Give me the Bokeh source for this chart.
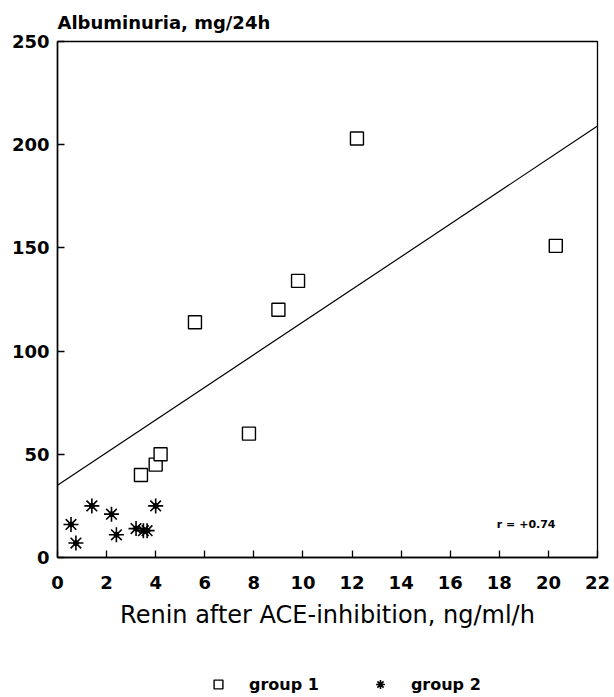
from bokeh.plotting import figure
from bokeh.layouts import column
from bokeh.models import Range1d, FixedTicker, Legend, LegendItem, Label
from bokeh.embed import file_html
from bokeh.resources import INLINE

# Data
g1_x = [3.4, 4.0, 4.2, 5.6, 7.8, 9.0, 9.8, 12.2, 20.3]
g1_y = [40, 45, 50, 114, 60, 120, 134, 203, 151]
g2_x = [0.55, 0.75, 1.4, 2.2, 2.4, 3.2, 3.5, 3.65, 4.0]
g2_y = [16, 7, 25, 21, 11, 14, 13, 13, 25]
fit_x = [0, 22]
fit_y = [35, 209]
x_ticks = [0, 2, 4, 6, 8, 10, 12, 14, 16, 18, 20, 22]
y_ticks = [0, 50, 100, 150, 200, 250]
series_names = ["group 1", "group 2"]

FONT = "DejaVu Sans"

p = figure(width=612, height=652, output_backend="svg", toolbar_location=None,
           x_range=Range1d(0, 22), y_range=Range1d(0, 250),
           min_border_left=57, min_border_right=15, min_border_top=41, min_border_bottom=95,
           title="Albuminuria, mg/24h")

p.title.text_font = FONT
p.title.text_font_style = "bold"
p.title.text_font_size = "18px"
p.title.text_color = "black"
p.title.align = "left"
p.title.offset = 0
p.title.standoff = 17

p.xgrid.visible = False
p.ygrid.visible = False
p.outline_line_color = "black"
p.outline_line_width = 1.3
p.background_fill_color = "white"
p.border_fill_color = "white"

for ax in (p.xaxis[0], p.yaxis[0]):
    ax.axis_line_color = "black"
    ax.axis_line_width = 1.5
    ax.major_tick_in = 7
    ax.major_tick_out = 0
    ax.major_tick_line_width = 1.3
    ax.minor_tick_line_color = None
    ax.major_label_text_font = FONT
    ax.major_label_text_font_style = "bold"
    ax.major_label_text_font_size = "18px"
    ax.major_label_text_color = "black"

p.xaxis.ticker = FixedTicker(ticks=x_ticks)
p.yaxis.ticker = FixedTicker(ticks=y_ticks)
p.xaxis.major_label_standoff = 18
p.yaxis.major_label_standoff = 8

p.xaxis.axis_label = "Renin after ACE-inhibition, ng/ml/h"
p.xaxis.axis_label_text_font = FONT
p.xaxis.axis_label_text_font_style = "normal"
p.xaxis.axis_label_text_font_size = "24px"
p.xaxis.axis_label_text_color = "black"
p.xaxis.axis_label_standoff = 9

SQ = dict(marker="square", fill_color="white", line_color="black", line_width=1.4)
ST = dict(marker="asterisk", line_color="black", line_width=1.6)

p.line(fit_x, fit_y, line_color="black", line_width=1.2)
p.scatter(g1_x, g1_y, size=13, **SQ)
p.scatter(g2_x, g2_y, size=15, **ST)
p.scatter(g2_x, g2_y, marker="circle", size=5, fill_color="black", line_color="black")

p.add_layout(Label(x=17.9, y=16, text="r = +0.74", text_font=FONT,
                   text_font_style="bold", text_font_size="11px",
                   text_color="black", text_baseline="middle", text_align="left"))

# Legend strip below the chart (same series, kept out of this strip's view)
q = figure(width=612, height=45, output_backend="svg", toolbar_location=None,
           x_range=Range1d(0, 22), y_range=Range1d(-100, -99), min_border=0)
q.axis.visible = False
q.grid.visible = False
q.outline_line_color = None
q.background_fill_color = "white"
q.border_fill_color = "white"
l1 = q.scatter(g1_x, g1_y, size=10, **SQ)
l2 = q.scatter(g2_x, g2_y, size=12, **ST)

legend = Legend(items=[LegendItem(label=series_names[0], renderers=[l1]),
                       LegendItem(label=series_names[1], renderers=[l2])],
                orientation="horizontal", location=(150, 2),
                label_text_font=FONT, label_text_font_style="bold",
                label_text_font_size="16px", label_text_color="black",
                glyph_width=22, glyph_height=22,
                spacing=50, padding=0, margin=0, border_line_color=None,
                background_fill_alpha=0, label_standoff=20)
q.add_layout(legend)

open("out.html", "w").write(file_html(column(p, q, spacing=0), INLINE))
